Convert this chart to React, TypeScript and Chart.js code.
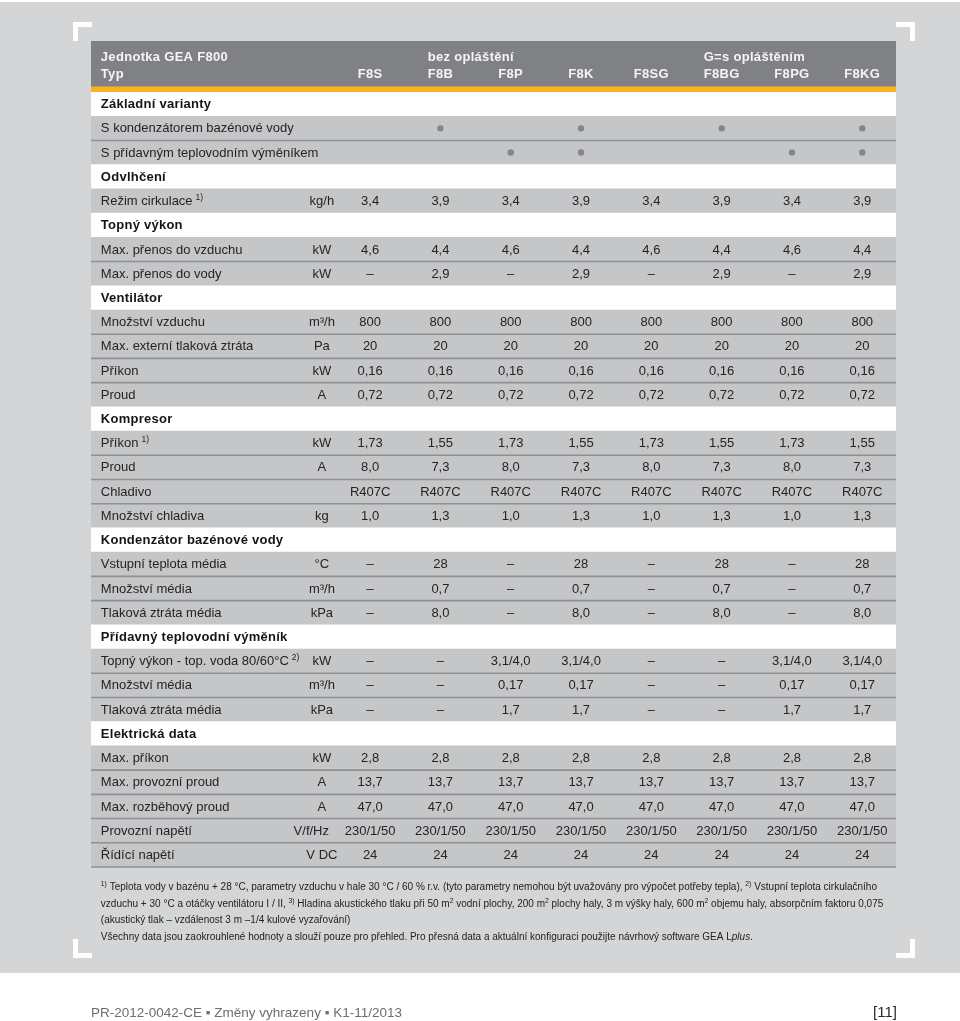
import { useEffect, useRef } from 'react';
import { Chart, registerables } from 'chart.js';

Chart.register(...registerables);

const FONT = '"Liberation Sans", Arial, Helvetica, sans-serif';

// ---------- header ----------
const tableTitle = 'Jednotka GEA F800';
const typeLabel = 'Typ';
const groupLabels = ['bez opláštění', 'G=s opláštěním'];
const groupStartModel = [1, 5];
const models = ['F8S', 'F8B', 'F8P', 'F8K', 'F8SG', 'F8BG', 'F8PG', 'F8KG'];

// ---------- rows ----------
const rowLabels = [
  'Základní varianty',
  'S kondenzátorem bazénové vody',
  'S přídavným teplovodním výměníkem',
  'Odvlhčení',
  'Režim cirkulace',
  'Topný výkon',
  'Max. přenos do vzduchu',
  'Max. přenos do vody',
  'Ventilátor',
  'Množství vzduchu',
  'Max. externí tlaková ztráta',
  'Příkon',
  'Proud',
  'Kompresor',
  'Příkon',
  'Proud',
  'Chladivo',
  'Množství chladiva',
  'Kondenzátor bazénové vody',
  'Vstupní teplota média',
  'Množství média',
  'Tlaková ztráta média',
  'Přídavný teplovodní výměník',
  'Topný výkon - top. voda 80/60°C',
  'Množství média',
  'Tlaková ztráta média',
  'Elektrická data',
  'Max. příkon',
  'Max. provozní proud',
  'Max. rozběhový proud',
  'Provozní napětí',
  'Řídící napětí',
];
const rowNotes = ['', '', '', '', '1)', '', '', '', '', '', '', '', '', '', '1)', '', '', '', '', '', '', '', '', '2)', '', '', '', '', '', '', '', ''];
const rowUnits = ['', '', '', '', 'kg/h', '', 'kW', 'kW', '', 'm³/h', 'Pa', 'kW', 'A', '', 'kW', 'A', '', 'kg', '', '°C', 'm³/h', 'kPa', '', 'kW', 'm³/h', 'kPa', '', 'kW', 'A', 'A', 'V/f/Hz', 'V DC'];
const sectionRows = [0, 3, 5, 8, 13, 18, 22, 26];

// ---------- values ----------
const kondenzatorVariant = [false, true, false, true, false, true, false, true];
const pridavnyVariant = [false, false, true, true, false, false, true, true];
const rezimCirkulace = ['3,4', '3,9', '3,4', '3,9', '3,4', '3,9', '3,4', '3,9'];
const prenosDoVzduchu = ['4,6', '4,4', '4,6', '4,4', '4,6', '4,4', '4,6', '4,4'];
const prenosDoVody = ['–', '2,9', '–', '2,9', '–', '2,9', '–', '2,9'];
const mnozstviVzduchu = ['800', '800', '800', '800', '800', '800', '800', '800'];
const externiZtrata = ['20', '20', '20', '20', '20', '20', '20', '20'];
const prikonVentilatoru = ['0,16', '0,16', '0,16', '0,16', '0,16', '0,16', '0,16', '0,16'];
const proudVentilatoru = ['0,72', '0,72', '0,72', '0,72', '0,72', '0,72', '0,72', '0,72'];
const prikonKompresoru = ['1,73', '1,55', '1,73', '1,55', '1,73', '1,55', '1,73', '1,55'];
const proudKompresoru = ['8,0', '7,3', '8,0', '7,3', '8,0', '7,3', '8,0', '7,3'];
const chladivo = ['R407C', 'R407C', 'R407C', 'R407C', 'R407C', 'R407C', 'R407C', 'R407C'];
const mnozstviChladiva = ['1,0', '1,3', '1,0', '1,3', '1,0', '1,3', '1,0', '1,3'];
const vstupniTeplota = ['–', '28', '–', '28', '–', '28', '–', '28'];
const mnozstviMediaKond = ['–', '0,7', '–', '0,7', '–', '0,7', '–', '0,7'];
const ztrataMediaKond = ['–', '8,0', '–', '8,0', '–', '8,0', '–', '8,0'];
const topnyVykonVymeniku = ['–', '–', '3,1/4,0', '3,1/4,0', '–', '–', '3,1/4,0', '3,1/4,0'];
const mnozstviMediaVym = ['–', '–', '0,17', '0,17', '–', '–', '0,17', '0,17'];
const ztrataMediaVym = ['–', '–', '1,7', '1,7', '–', '–', '1,7', '1,7'];
const maxPrikon = ['2,8', '2,8', '2,8', '2,8', '2,8', '2,8', '2,8', '2,8'];
const maxProvozniProud = ['13,7', '13,7', '13,7', '13,7', '13,7', '13,7', '13,7', '13,7'];
const maxRozbehovyProud = ['47,0', '47,0', '47,0', '47,0', '47,0', '47,0', '47,0', '47,0'];
const provozniNapeti = ['230/1/50', '230/1/50', '230/1/50', '230/1/50', '230/1/50', '230/1/50', '230/1/50', '230/1/50'];
const ridiciNapeti = ['24', '24', '24', '24', '24', '24', '24', '24'];

const rowValues: (string[] | boolean[] | null)[] = [
  null, kondenzatorVariant, pridavnyVariant,
  null, rezimCirkulace,
  null, prenosDoVzduchu, prenosDoVody,
  null, mnozstviVzduchu, externiZtrata, prikonVentilatoru, proudVentilatoru,
  null, prikonKompresoru, proudKompresoru, chladivo, mnozstviChladiva,
  null, vstupniTeplota, mnozstviMediaKond, ztrataMediaKond,
  null, topnyVykonVymeniku, mnozstviMediaVym, ztrataMediaVym,
  null, maxPrikon, maxProvozniProud, maxRozbehovyProud, provozniNapeti, ridiciNapeti,
];

// ---------- notes & footer ----------
type Seg = { t: string; sup?: boolean; italic?: boolean };
const footnoteLines: Seg[][] = [
  [{ t: '1)', sup: true }, { t: ' Teplota vody v bazénu + 28 °C, parametry vzduchu v hale 30 °C / 60 % r.v. (tyto parametry nemohou být uvažovány pro výpočet potřeby tepla), ' }, { t: '2)', sup: true }, { t: ' Vstupní teplota cirkulačního' }],
  [{ t: 'vzduchu + 30 °C a otáčky ventilátoru I / II, ' }, { t: '3)', sup: true }, { t: ' Hladina akustického tlaku při 50 m' }, { t: '2', sup: true }, { t: ' vodní plochy, 200 m' }, { t: '2', sup: true }, { t: ' plochy haly, 3 m výšky haly, 600 m' }, { t: '2', sup: true }, { t: ' objemu haly, absorpčním faktoru 0,075' }],
  [{ t: '(akustický tlak – vzdálenost 3 m –1/4 kulové vyzařování)' }],
  [{ t: 'Všechny data jsou zaokrouhlené hodnoty a slouží pouze pro přehled. Pro přesná data a aktuální konfiguraci použijte návrhový software GEA L' }, { t: 'plus', italic: true }, { t: '.' }],
];
const footerText = 'PR-2012-0042-CE ▪ Změny vyhrazeny ▪ K1-11/2013';
const pageNumber = '[11]';

// ---------- layout / style ----------
const X_MIN = -3.97;
const X_MAX = 7.48;
const LABEL_COL = -3.83;
const UNIT_COL = -0.686;
const PAGE_GRAY = '#d4d5d7';
const ROW_GRAY = '#c5c6c8';
const SEP_COLOR = '#8f9092';
const HEAD_GRAY = '#808184';
const YELLOW = '#f6b520';

const isSection = (i: number) => sectionRows.includes(i);

function drawRich(ctx: CanvasRenderingContext2D, segs: Seg[], x: number, y: number, size: number) {
  let cx = x;
  for (const s of segs) {
    const sz = s.sup ? size * 0.68 : size;
    ctx.font = `${s.italic ? 'italic ' : ''}${sz}px ${FONT}`;
    ctx.fillText(s.t, cx, s.sup ? y - size * 0.32 : y);
    cx += ctx.measureText(s.t).width;
  }
}

const tablePlugin = {
  id: 'specTable',
  beforeDraw(chart: any) {
    const { ctx, width, height } = chart;
    ctx.save();
    ctx.fillStyle = '#ffffff';
    ctx.fillRect(0, 0, width, height);
    ctx.fillStyle = PAGE_GRAY;
    ctx.fillRect(0, 2, width, 971);
    ctx.restore();
  },
  afterDatasetsDraw(chart: any) {
    const { ctx, chartArea: a, scales } = chart;
    const xs = scales.x;
    const ys = scales.y;
    const rowH = ys.getPixelForValue(1) - ys.getPixelForValue(0);
    const n = rowLabels.length;
    ctx.save();
    ctx.strokeStyle = SEP_COLOR;
    ctx.lineWidth = 1.6;
    for (let i = 0; i < n; i++) {
      if (isSection(i)) continue;
      if (i === n - 1 || !isSection(i + 1)) {
        const y = ys.getPixelForValue(i) + rowH / 2;
        ctx.beginPath();
        ctx.moveTo(a.left, y);
        ctx.lineTo(a.right, y);
        ctx.stroke();
      }
    }
    ctx.textBaseline = 'middle';
    const labelX = xs.getPixelForValue(LABEL_COL);
    const unitX = xs.getPixelForValue(UNIT_COL);
    for (let i = 0; i < n; i++) {
      const y = ys.getPixelForValue(i) + 0.5;
      if (isSection(i)) {
        ctx.font = `bold 13px ${FONT}`;
        (ctx as any).letterSpacing = '0.25px';
        ctx.fillStyle = '#151515';
        ctx.textAlign = 'left';
        ctx.fillText(rowLabels[i], labelX, y);
        (ctx as any).letterSpacing = '0px';
        continue;
      }
      ctx.fillStyle = '#242424';
      ctx.font = `13px ${FONT}`;
      ctx.textAlign = 'left';
      ctx.fillText(rowLabels[i], labelX, y);
      if (rowNotes[i]) {
        const w = ctx.measureText(rowLabels[i]).width;
        ctx.font = `8.5px ${FONT}`;
        ctx.fillText(rowNotes[i], labelX + w + 3, y - 4);
        ctx.font = `13px ${FONT}`;
      }
      const unit = rowUnits[i];
      if (unit) {
        const w = ctx.measureText(unit).width;
        const cx = w > 33 ? Math.min(unitX, 329 - w / 2) : unitX;
        ctx.textAlign = 'center';
        ctx.fillText(unit, cx, y);
      }
      const vals = rowValues[i];
      if (!vals) continue;
      vals.forEach((v: any, c: number) => {
        const x = xs.getPixelForValue(c);
        if (typeof v === 'boolean') {
          if (v) {
            ctx.fillStyle = '#858688';
            ctx.beginPath();
            ctx.arc(x, y - 0.5, 3.2, 0, Math.PI * 2);
            ctx.fill();
            ctx.fillStyle = '#242424';
          }
        } else {
          ctx.textAlign = 'center';
          ctx.fillText(v, x, y);
        }
      });
    }
    ctx.restore();
  },
  afterDraw(chart: any) {
    const { ctx, chartArea: a, scales } = chart;
    const xs = scales.x;
    ctx.save();
    ctx.fillStyle = HEAD_GRAY;
    ctx.fillRect(a.left, a.top - 51, a.right - a.left, 46);
    ctx.fillStyle = YELLOW;
    ctx.fillRect(a.left, a.top - 5.5, a.right - a.left, 5.5);
    ctx.fillStyle = '#f5f5f5';
    ctx.textBaseline = 'middle';
    ctx.font = `bold 13px ${FONT}`;
    (ctx as any).letterSpacing = '0.3px';
    const labelX = xs.getPixelForValue(LABEL_COL);
    const y1 = a.top - 35;
    const y2 = a.top - 18;
    ctx.textAlign = 'left';
    ctx.fillText(tableTitle, labelX, y1);
    ctx.fillText(typeLabel, labelX, y2);
    models.forEach((m, c) => {
      ctx.textAlign = 'center';
      ctx.fillText(m, xs.getPixelForValue(c), y2);
    });
    groupLabels.forEach((g, k) => {
      const mi = groupStartModel[k];
      const w = ctx.measureText(models[mi]).width;
      ctx.textAlign = 'left';
      ctx.fillText(g, xs.getPixelForValue(mi) - w / 2, y1);
    });
    (ctx as any).letterSpacing = '0px';

    ctx.fillStyle = '#ffffff';
    const L = 19, T = 5;
    const lx = 73, rx = 915, ty = 22, by = 958;
    ctx.fillRect(lx, ty, L, T); ctx.fillRect(lx, ty, T, L);
    ctx.fillRect(rx - L, ty, L, T); ctx.fillRect(rx - T, ty, T, L);
    ctx.fillRect(lx, by - T, L, T); ctx.fillRect(lx, by - L, T, L);
    ctx.fillRect(rx - L, by - T, L, T); ctx.fillRect(rx - T, by - L, T, L);

    ctx.fillStyle = '#222222';
    ctx.textAlign = 'left';
    ctx.textBaseline = 'middle';
    const fy = [887, 904, 920.5, 937];
    footnoteLines.forEach((segs, k) => drawRich(ctx, segs, labelX, fy[k], 10));

    ctx.fillStyle = '#6e6e6e';
    ctx.font = `13.5px ${FONT}`;
    ctx.fillText(footerText, a.left, 1013);
    ctx.fillStyle = '#2a2a2a';
    ctx.font = `15px ${FONT}`;
    ctx.textAlign = 'right';
    ctx.fillText(pageNumber, a.right + 1, 1013);
    ctx.restore();
  },
};

export default function App() {
  const ref = useRef<HTMLCanvasElement>(null);
  useEffect(() => {
    if (!ref.current) return;
    const chart = new Chart(ref.current, {
      type: 'bar',
      data: {
        labels: rowLabels,
        datasets: [
          {
            data: rowLabels.map(() => [X_MIN, X_MAX]) as any,
            backgroundColor: rowLabels.map((_, i) => (isSection(i) ? '#ffffff' : ROW_GRAY)),
            borderWidth: 0,
            barPercentage: 1,
            categoryPercentage: 1,
          },
        ],
      },
      options: {
        indexAxis: 'y',
        responsive: false,
        animation: false,
        devicePixelRatio: 1,
        layout: { padding: { left: 91, right: 64, top: 92, bottom: 154 } },
        scales: {
          x: { type: 'linear', min: X_MIN, max: X_MAX, display: false },
          y: { type: 'category', display: false, offset: true },
        },
        plugins: { legend: { display: false }, tooltip: { enabled: false }, title: { display: false } },
      },
      plugins: [tablePlugin],
    });
    return () => chart.destroy();
  }, []);
  return (
    <div style={{ position: 'absolute', left: 0, top: 0, width: 960, height: 1021 }}>
      <canvas ref={ref} width={960} height={1021} style={{ display: 'block', width: 960, height: 1021 }} />
    </div>
  );
}
